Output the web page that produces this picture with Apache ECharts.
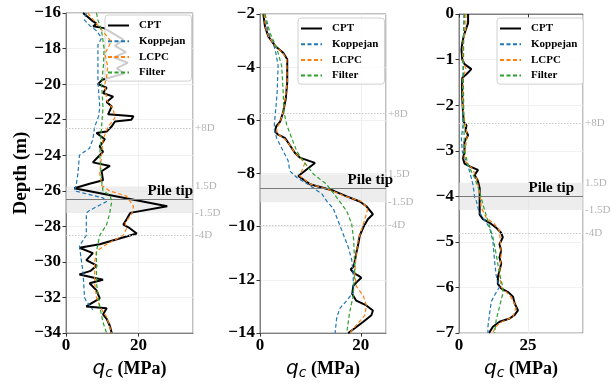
<!DOCTYPE html>
<html>
<head>
<meta charset="utf-8">
<script src="https://cdn.jsdelivr.net/npm/echarts@6/dist/echarts.min.js"></script>
<style>
  html, body { margin: 0; padding: 0; background: #fff; }
  #chart { width: 611px; height: 385px; }
</style>
</head>
<body>
<div id="chart"></div>
<script>
// panel 1 (deep pile)
const p1CptDepth = [-16.0, -16.4, -16.6, -16.75, -16.85, -17.5, -17.85, -18.2, -18.5, -18.8, -19.1, -19.4, -19.75, -20.0, -20.2, -20.5, -20.7, -21.0, -21.26, -21.7, -21.8, -22.0, -22.1, -22.4, -22.66, -22.75, -23.1, -23.5, -23.8, -24.4, -24.6, -24.9, -25.4, -25.6, -25.85, -26.87, -27.24, -27.6, -27.9, -28.05, -28.4, -29.0, -29.2, -29.5, -29.9, -30.2, -30.5, -30.7, -31.0, -31.2, -31.6, -32.05, -32.5, -32.6, -32.95, -33.2, -33.6, -34.0];
const p1CptQc = [4.7, 7.0, 8.4, 7.5, 10.5, 15.8, 13.5, 16.5, 13.2, 17.0, 14.0, 16.0, 10.0, 8.8, 11.2, 10.2, 13.0, 11.2, 12.6, 11.6, 18.6, 18.0, 13.5, 12.5, 11.2, 8.4, 10.7, 9.3, 10.2, 7.4, 12.1, 9.8, 10.2, 6.5, 2.3, 27.9, 17.7, 16.7, 15.8, 17.2, 19.5, 9.3, 3.7, 7.4, 5.6, 8.5, 6.8, 3.7, 10.2, 6.5, 8.4, 9.3, 5.6, 11.2, 10.2, 11.2, 12.1, 12.6];
const p1KopDepth = [-16.0, -16.4, -16.7, -17.0, -17.4, -17.8, -19.8, -21.3, -21.8, -22.4, -23.1, -23.6, -24.0, -25.0, -25.7, -26.0, -26.4, -26.6, -27.1, -27.25, -28.5, -29.1, -30.6, -32.0, -32.2, -32.7];
const p1KopQc = [5.6, 5.1, 6.5, 8.4, 9.8, 8.8, 8.8, 9.3, 9.0, 7.9, 7.4, 6.5, 3.7, 3.3, 2.8, 2.3, 10.2, 11.2, 6.5, 5.6, 5.6, 3.7, 4.7, 5.1, 5.6, 7.4];
const p1LcpcDepth = [-16.0, -16.5, -17.0, -17.6, -18.3, -19.0, -19.6, -20.0, -20.9, -21.4, -21.9, -22.4, -23.1, -24.0, -25.0, -25.7, -26.0, -26.3, -26.87, -27.3, -27.8, -28.1, -28.5, -29.0, -29.4, -30.0, -31.2, -32.0, -32.5, -33.1, -34.0];
const p1LcpcQc = [6.0, 8.0, 10.0, 12.5, 10.7, 11.5, 11.2, 10.7, 11.2, 13.0, 13.5, 11.6, 10.2, 9.8, 9.3, 9.8, 12.0, 16.7, 18.6, 18.1, 16.3, 16.7, 15.8, 11.2, 8.4, 7.9, 7.9, 8.4, 9.3, 11.2, 12.6];
const p1FiltDepth = [-16.0, -16.4, -17.0, -18.0, -19.0, -20.0, -21.3, -22.4, -24.0, -25.4, -26.0, -26.24, -26.6, -27.2, -27.9, -28.5, -29.4, -31.2, -32.5, -33.4, -34.0];
const p1FiltQc = [8.4, 8.8, 9.8, 10.5, 10.3, 9.8, 10.2, 9.8, 9.3, 9.8, 10.2, 12.1, 12.6, 12.1, 11.2, 9.3, 8.4, 8.4, 9.3, 10.2, 11.2];

// panel 2
const p2CptDepth = [-2.0, -2.47, -2.84, -3.2, -3.46, -3.7, -4.57, -5.2, -5.68, -6.05, -6.23, -6.42, -6.54, -6.67, -6.9, -7.22, -7.4, -7.6, -8.09, -8.4, -8.64, -8.86, -9.05, -9.23, -9.53, -9.72, -10.02, -10.33, -10.64, -11.0, -11.3, -11.5, -11.6, -11.74, -11.85, -11.92, -12.1, -12.23, -12.53, -12.78, -12.96, -13.15, -13.33, -13.57, -13.82, -14.0];
const p2CptQc = [0.66, 1.0, 1.65, 3.0, 4.6, 5.4, 5.4, 5.1, 4.6, 4.0, 3.2, 3.0, 3.6, 5.0, 5.8, 6.9, 7.9, 10.9, 7.6, 9.9, 14.5, 17.2, 19.8, 21.1, 22.4, 21.4, 20.5, 19.8, 19.5, 19.1, 18.8, 18.6, 18.0, 18.6, 19.6, 20.1, 19.1, 18.5, 18.3, 19.1, 21.1, 22.4, 22.1, 20.5, 18.8, 17.5];
const p2KopDepth = [-2.0, -2.7, -2.96, -3.33, -3.95, -4.94, -5.43, -5.8, -6.3, -6.67, -7.04, -7.53, -7.9, -8.15, -8.4, -8.6, -8.77, -9.08, -9.3, -9.78, -10.27, -10.76, -11.25, -11.74, -12.47, -12.78, -13.08, -13.45, -14.0];
const p2KopQc = [0.9, 1.65, 2.3, 3.0, 3.6, 3.4, 3.2, 3.0, 2.8, 3.3, 4.3, 5.6, 5.9, 7.3, 9.5, 11.0, 12.3, 13.4, 14.5, 15.5, 16.5, 17.5, 18.2, 18.5, 18.5, 17.2, 15.8, 15.2, 14.9];
const p2LcpcDepth = [-2.0, -2.5, -2.85, -3.2, -3.46, -3.7, -4.57, -5.2, -5.68, -6.05, -6.3, -6.5, -6.7, -6.9, -7.22, -7.4, -7.6, -8.09, -8.4, -8.64, -8.86, -9.05, -9.3, -9.53, -9.9, -10.5, -11.0, -11.74, -12.23, -12.6, -12.96, -13.33, -13.7, -14.0];
const p2LcpcQc = [0.8, 1.1, 1.7, 3.0, 4.5, 5.3, 5.4, 5.0, 4.6, 4.0, 3.3, 3.4, 4.9, 5.8, 6.9, 7.9, 8.9, 7.9, 10.0, 14.2, 17.0, 20.1, 21.4, 21.1, 20.5, 19.5, 19.1, 18.8, 19.1, 20.5, 21.1, 20.8, 19.1, 17.8];
const p2FiltDepth = [-2.0, -2.72, -3.27, -3.95, -4.94, -5.68, -6.17, -6.67, -7.16, -7.53, -8.02, -8.4, -9.05, -9.41, -9.9, -10.51, -11.6, -12.6, -13.2, -14.0];
const p2FiltQc = [1.0, 2.0, 3.3, 4.3, 4.6, 4.75, 5.3, 6.3, 7.3, 8.6, 10.6, 13.2, 15.8, 17.2, 18.2, 18.6, 18.8, 18.5, 17.8, 17.2];

// panel 3
const p3CptDepth = [0, -0.2, -0.35, -0.49, -0.64, -0.78, -1.0, -1.1, -1.21, -1.32, -1.4, -1.58, -1.87, -2.15, -2.37, -2.44, -2.55, -2.66, -2.8, -3.02, -3.17, -3.28, -3.35, -3.42, -3.53, -3.67, -3.82, -4.4, -4.5, -4.58, -4.69, -4.8, -4.9, -5.05, -5.19, -5.34, -5.48, -5.63, -5.77, -5.92, -6.02, -6.1, -6.2, -6.35, -6.5, -6.6, -6.68, -6.75, -6.86, -7.0];
const p3CptQc = [3.3, 3.3, 2.4, 1.7, 1.2, 0.9, 1.2, 2.0, 4.5, 2.7, 1.2, 1.1, 1.2, 1.45, 1.7, 2.7, 2.4, 3.3, 2.0, 2.0, 1.45, 2.0, 4.1, 6.9, 5.7, 6.9, 7.5, 7.5, 8.7, 11.1, 13.5, 15.3, 15.9, 14.7, 15.3, 14.7, 15.3, 14.7, 14.1, 14.1, 15.3, 17.8, 19.6, 20.2, 21.4, 20.2, 18.4, 14.7, 12.3, 10.9];
const p3KopDepth = [0, -1.0, -2.0, -2.44, -2.73, -3.02, -3.24, -3.46, -3.75, -4.03, -4.1, -4.33, -4.47, -4.69, -4.98, -5.41, -5.74, -5.99, -6.17, -6.31, -6.57, -6.86, -7.0];
const p3KopQc = [1.8, 1.5, 1.3, 1.45, 0.85, 1.2, 2.7, 3.9, 5.1, 5.7, 6.3, 7.2, 8.7, 11.1, 12.3, 12.9, 13.5, 14.7, 12.9, 11.7, 11.1, 10.5, 10.5];
const p3LcpcDepth = [0, -0.3, -0.6, -1.0, -1.2, -1.4, -2.0, -2.4, -2.66, -3.0, -3.2, -3.4, -3.6, -3.9, -4.25, -4.47, -4.61, -4.76, -5.26, -5.7, -5.99, -6.17, -6.42, -6.64, -6.78, -6.9, -7.0];
const p3LcpcQc = [2.5, 2.5, 1.5, 1.3, 2.5, 1.5, 1.3, 2.2, 3.0, 2.2, 1.8, 5.0, 6.3, 7.5, 8.1, 9.9, 12.9, 14.7, 15.3, 14.7, 15.3, 18.4, 20.8, 19.6, 14.7, 12.9, 12.3];
const p3FiltDepth = [0, -0.4, -1.5, -2.5, -3.0, -3.31, -3.6, -3.9, -4.18, -4.54, -4.9, -5.27, -5.7, -5.99, -6.13, -6.42, -6.71, -7.0];
const p3FiltQc = [2.0, 1.7, 1.6, 1.8, 2.0, 3.3, 5.7, 7.5, 8.7, 10.5, 12.3, 13.5, 14.7, 15.9, 15.9, 14.7, 13.5, 12.9];

// pile tip depth and diameter per panel
const tipDepths = [-26.5, -8.55, -4.0];
const pileD = [0.5, 0.35, 0.2];
const yRanges = [[-34, -16], [-14, -2], [-7, 0]];
const yIntervals = [2, 2, 1];
const xMaxes = [35, 25, 45];
const xIntervals = [20, 20, 25];
const seriesNames = ['CPT', 'Koppejan', 'LCPC', 'Filter'];

const SERIF = '"Liberation Serif", "DejaVu Serif", serif';
const colors = ['#000000', '#1f77b4', '#ff7f0e', '#2ca02c'];

const grids = [
  { left: 66, top: 13, width: 127, height: 328 },
  { left: 260, top: 14, width: 126, height: 325 },
  { left: 459, top: 14, width: 124, height: 324 }
];
const legendPos = [
  { left: 105, top: 15 },
  { left: 298, top: 18 },
  { left: 497, top: 18 }
];
const tipLabelOffset = [[1, 0], [8, 0], [-8, 0]];

const panelData = [
  [[p1CptQc, p1CptDepth], [p1KopQc, p1KopDepth], [p1LcpcQc, p1LcpcDepth], [p1FiltQc, p1FiltDepth]],
  [[p2CptQc, p2CptDepth], [p2KopQc, p2KopDepth], [p2LcpcQc, p2LcpcDepth], [p2FiltQc, p2FiltDepth]],
  [[p3CptQc, p3CptDepth], [p3KopQc, p3KopDepth], [p3LcpcQc, p3LcpcDepth], [p3FiltQc, p3FiltDepth]]
];

const zip = (xs, ys) => xs.map((x, i) => [x, ys[i]]);
const minus = v => (v < 0 ? '\u2212' + Math.abs(v) : String(v));
const annoLabel = txt => ({
  show: true, position: 'end', formatter: txt, distance: 2,
  color: '#b3b3b3', fontFamily: SERIF, fontSize: 11
});

const xAxes = [], yAxes = [], series = [], legends = [];

grids.forEach((g, i) => {
  xAxes.push({
    type: 'value', gridIndex: i, min: 0, max: xMaxes[i], interval: xIntervals[i],
    axisLine: { show: true, lineStyle: { color: '#808080' } },
    axisTick: { show: true, length: 3.5, lineStyle: { color: '#333' } },
    axisLabel: {
      margin: 4, color: '#000', fontFamily: SERIF, fontWeight: 'bold', fontSize: 17,
      showMaxLabel: false,
      formatter: v => (v % xIntervals[i] === 0 ? String(v) : '')
    },
    splitLine: { show: true, lineStyle: { color: '#ececec', width: 0.8 } },
    name: '{q|q}{c|c}{m| (MPa)}', nameLocation: 'middle', nameGap: 21,
    nameTextStyle: {
      rich: {
        q: { fontFamily: '"DejaVu Sans"', fontStyle: 'italic', fontSize: 20, color: '#000', lineHeight: 22 },
        c: { fontFamily: '"DejaVu Sans"', fontStyle: 'italic', fontSize: 14, color: '#000', verticalAlign: 'bottom', padding: [6, 0, 0, 0] },
        m: { fontFamily: SERIF, fontWeight: 'bold', fontSize: 18, color: '#000', lineHeight: 22 }
      }
    }
  });
  yAxes.push({
    type: 'value', gridIndex: i, min: yRanges[i][0], max: yRanges[i][1], interval: yIntervals[i],
    axisLine: { show: true, lineStyle: { color: '#808080' } },
    axisTick: { show: true, length: 3.5, lineStyle: { color: '#333' } },
    axisLabel: { margin: 5, color: '#000', fontFamily: SERIF, fontWeight: 'bold', fontSize: 17, formatter: minus },
    splitLine: { show: true, lineStyle: { color: '#ececec', width: 0.8 } },
    name: i === 0 ? 'Depth (m)' : '', nameLocation: 'middle', nameGap: 33,
    nameTextStyle: { fontFamily: SERIF, fontWeight: 'bold', fontSize: 19, color: '#000' }
  });

  const tip = tipDepths[i], D = pileD[i];
  panelData[i].forEach((d, k) => {
    const s = {
      name: seriesNames[k], type: 'line', xAxisIndex: i, yAxisIndex: i,
      data: zip(d[0], d[1]), showSymbol: false, symbol: 'none', silent: true,
      lineStyle: k === 0
        ? { color: colors[k], width: 2 }
        : { color: colors[k], width: 1.2, type: [4, 2.5] },
      itemStyle: { color: colors[k] },
      z: 2 + k
    };
    if (k === 0) {
      s.markArea = {
        silent: true,
        itemStyle: { color: 'rgba(225,225,225,0.6)' },
        data: [[{ yAxis: tip + 1.5 * D }, { yAxis: tip - 1.5 * D }]]
      };
      s.markLine = {
        silent: true, symbol: ['none', 'none'], animation: false,
        data: [
          { yAxis: tip + 8 * D, lineStyle: { color: '#c8c8c8', type: [1.5, 1.5], width: 1 }, label: annoLabel('+8D') },
          { yAxis: tip - 4 * D, lineStyle: { color: '#c8c8c8', type: [1.5, 1.5], width: 1 }, label: annoLabel('-4D') },
          { yAxis: tip + 1.5 * D, lineStyle: { color: 'rgba(0,0,0,0)', width: 1 }, label: annoLabel('1.5D') },
          { yAxis: tip - 1.5 * D, lineStyle: { color: 'rgba(0,0,0,0)', width: 1 }, label: annoLabel('-1.5D') },
          {
            yAxis: tip, lineStyle: { color: '#7a7a7a', type: 'solid', width: 1.2 },
            label: {
              show: true, position: 'insideEndTop', formatter: 'Pile tip', distance: 1,
              offset: tipLabelOffset[i],
              color: '#000', fontFamily: SERIF, fontWeight: 'bold', fontSize: 15
            }
          }
        ]
      };
    }
    series.push(s);
  });

  legends.push({
    data: seriesNames, orient: 'vertical', left: legendPos[i].left, top: legendPos[i].top,
    itemWidth: 21, itemHeight: 10, itemGap: 4.7,
    padding: [5, 6, 3, 2],
    backgroundColor: 'rgba(255,255,255,0.8)', borderColor: '#d0d0d0', borderWidth: 1, borderRadius: 3,
    selectedMode: false,
    itemStyle: { opacity: 0 },
    textStyle: { fontFamily: SERIF, fontWeight: 'bold', fontSize: 11, color: '#000', padding: [0, 0, 0, 5] }
  });
});

const chart = echarts.init(document.getElementById('chart'), null, { renderer: 'canvas' });
chart.setOption({
  animation: false,
  backgroundColor: '#fff',
  grid: grids.map(g => Object.assign({ show: true, borderColor: '#808080', borderWidth: 1, backgroundColor: 'transparent' }, g)),
  xAxis: xAxes,
  yAxis: yAxes,
  legend: legends,
  series: series
});
</script>
</body>
</html>
